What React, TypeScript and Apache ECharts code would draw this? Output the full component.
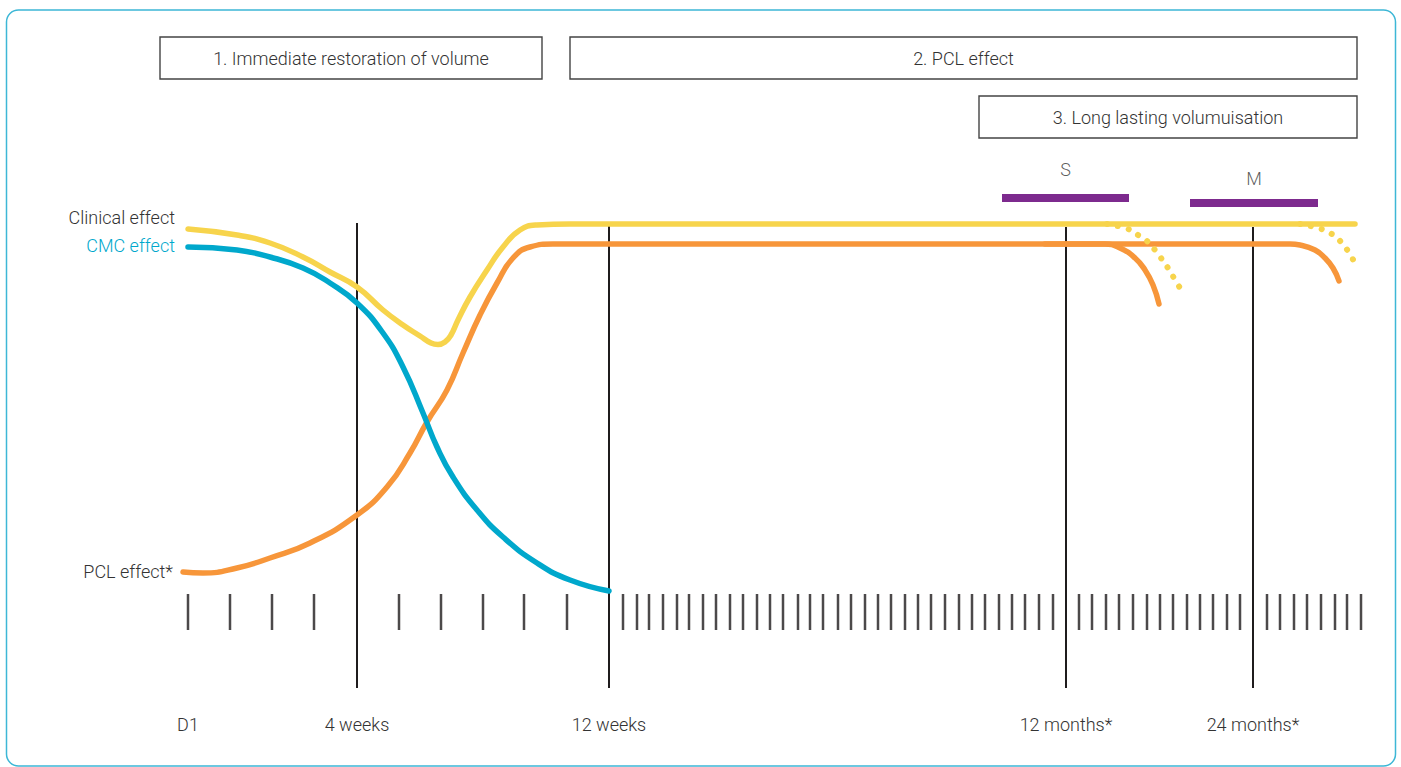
import React, { useEffect, useRef } from "react";
import * as echarts from "echarts";

// x: schematic time position (D1 = 0), y: effect level (baseline = 0)
const clinical: number[][] = [
  [0, 459], [49, 453], [82, 445], [115, 431], [142, 416], [169, 401], [195, 378], [215, 363],
  [232, 352], [243, 345], [250, 343.5], [257, 346], [263, 353], [270, 368], [282, 391], [299, 418], [315, 441],
  [332, 458], [349, 463], [382, 464], [500, 464], [800, 464], [1000, 464], [1167, 464],
];
const cmc: number[][] = [
  [0, 441], [49, 438], [82, 431], [115, 420], [142, 405], [169, 385], [195, 355], [215, 321],
  [235, 275], [249, 241], [265, 211], [289, 178], [315, 151], [349, 125], [382, 108], [421, 97],
];
const pcl: number[][] = [
  [-5, 116], [15, 115], [49, 120], [82, 130], [122, 145], [169, 173], [199, 201], [222, 235],
  [239, 266], [259, 298], [275, 335], [292, 373], [309, 405], [325, 430], [342, 441],
  [365, 444], [442, 444], [700, 444], [917, 444], [932, 440], [947, 430], [957, 418],
  [965, 403], [971, 384],
];
const pclLate: number[][] = [
  [857, 444], [1000, 444], [1102, 444], [1112, 443], [1127, 438], [1137, 430], [1145, 420], [1151, 407],
];
const clinicalFade1: number[][] = [
  [919, 464], [940, 459], [950, 453], [959, 447], [967, 438], [973, 430], [980, 420], [986, 410], [992, 400],
];
const clinicalFade2: number[][] = [
  [1112, 464], [1130, 460], [1140, 456], [1149, 450], [1156, 442], [1162, 434], [1167, 424],
];
const milestones = [0, 169, 421, 878, 1065];
const milestoneLabels = ["D1", "4 weeks", "12 weeks", "12 months*", "24 months*"];
const milestoneTops = [null, 465, 462, 461, 461];
const ticks = [
  0, 42, 84, 126, 211, 253, 295, 336, 379,
  435, 449, 461, 475, 489, 501, 515, 528, 542, 555, 569, 582, 595, 610, 622, 635, 650, 663,
  677, 690, 703, 717, 730, 743, 757, 771, 784, 797, 811, 824, 837, 851, 865,
  891, 904, 918, 931, 945, 959, 972, 985, 999, 1012, 1025, 1039, 1052,
  1079, 1092, 1106, 1119, 1133, 1147, 1159, 1173,
];
const tickLevel = 76;
const productRanges = [
  { name: "S", from: 814, to: 941, level: 490, labelLevel: 519 },
  { name: "M", from: 1002, to: 1130, level: 485, labelLevel: 510 },
];
const phases = [
  { text: "1. Immediate restoration of volume", x: 160, y: 37, w: 382, h: 42 },
  { text: "2. PCL effect", x: 570, y: 37, w: 787, h: 42 },
  { text: "3. Long lasting volumuisation", x: 979, y: 96, w: 378, h: 42 },
];

const FONT = "Roboto, 'Open Sans', sans-serif";
const FW = 300;
const FS = 18;
const TEXT = "#333333";
const YELLOW = "#F7D44C";
const BLUE = "#00A8CC";
const ORANGE = "#F7963A";
const PURPLE = "#7D2A8E";
const DARK = "#1f1c1d";

export default function App() {
  const ref = useRef<HTMLDivElement>(null);
  useEffect(() => {
    if (!ref.current) return;
    const chart = echarts.init(ref.current, null, { renderer: "svg" });
    const curve = (name: string, data: number[][], color: string, extra: any = {}) => ({
      name,
      type: "line",
      data,
      smooth: 0.5,
      showSymbol: false,
      symbol: "none",
      silent: true,
      clip: false,
      lineStyle: { color, width: 5.5, cap: "round" },
      z: 3,
      ...extra,
    });
    const series: any[] = [];
    milestones.forEach((m, i) => {
      const top = milestoneTops[i];
      if (top == null) return;
      series.push({
        type: "line",
        data: [[m, 0], [m, top]],
        symbol: "none",
        silent: true,
        lineStyle: { color: DARK, width: 2 },
        z: 2,
      });
    });
    series.push({
      type: "scatter",
      data: ticks.map((t) => [t, tickLevel]),
      symbol: "rect",
      symbolSize: [2.5, 36],
      itemStyle: { color: DARK },
      silent: true,
      clip: false,
      z: 2,
    });
    series.push(curve("Clinical effect", clinical, YELLOW));
    series.push(curve("CMC effect", cmc, BLUE, { z: 4 }));
    series.push(curve("PCL effect", pcl, ORANGE));
    series.push(curve("PCL late", pclLate, ORANGE));
    series.push(
      curve("fade1", clinicalFade1, YELLOW, {
        lineStyle: { color: YELLOW, width: 6, type: [0.1, 11], cap: "round" },
      })
    );
    series.push(
      curve("fade2", clinicalFade2, YELLOW, {
        lineStyle: { color: YELLOW, width: 6, type: [0.1, 11], cap: "round" },
      })
    );
    productRanges.forEach((p) => {
      series.push({
        type: "line",
        data: [[p.from, p.level], [p.to, p.level]],
        symbol: "none",
        silent: true,
        lineStyle: { color: PURPLE, width: 8, cap: "butt" },
        z: 5,
      });
      series.push({
        type: "scatter",
        data: [[(p.from + p.to) / 2, p.labelLevel]],
        symbolSize: 0,
        silent: true,
        label: {
          show: true,
          position: "inside",
          formatter: p.name,
          color: TEXT,
          fontSize: FS,
          fontWeight: FW,
          fontFamily: FONT,
        },
      });
    });

    const graphic: any[] = [
      {
        type: "rect",
        shape: { x: 6.5, y: 10, width: 1389, height: 756, r: 12 },
        style: { fill: "none", stroke: "#3DB7D6", lineWidth: 1.5 },
        silent: true,
      },
    ];
    phases.forEach((p) => {
      graphic.push({
        type: "rect",
        shape: { x: p.x, y: p.y, width: p.w, height: p.h },
        style: { fill: "#fff", stroke: "#444444", lineWidth: 1.4 },
        silent: true,
      });
      graphic.push({
        type: "text",
        style: {
          text: p.text,
          x: p.x + p.w / 2,
          y: p.y + p.h / 2,
          align: "center",
          verticalAlign: "middle",
          fill: TEXT,
          fontSize: FS,
          fontWeight: FW,
          fontFamily: FONT,
        },
        silent: true,
      });
    });
    const sideLabels = [
      { text: "Clinical effect", x: 175, y: 217, color: TEXT },
      { text: "CMC effect", x: 175, y: 245, color: BLUE },
      { text: "PCL effect*", x: 173, y: 571, color: TEXT },
    ];
    sideLabels.forEach((s) => {
      graphic.push({
        type: "text",
        style: {
          text: s.text,
          x: s.x,
          y: s.y,
          align: "right",
          verticalAlign: "middle",
          fill: s.color,
          fontSize: FS,
          fontWeight: FW,
          fontFamily: FONT,
        },
        silent: true,
      });
    });

    chart.setOption({
      animation: false,
      backgroundColor: "#ffffff",
      grid: { left: 178, right: 38, top: 160, bottom: 79 },
      xAxis: {
        type: "value",
        min: -10,
        max: 1175,
        axisLine: { show: false },
        axisTick: { show: false },
        splitLine: { show: false },
        axisLabel: {
          customValues: milestones,
          formatter: (v: number) => {
            const i = milestones.indexOf(v);
            return i >= 0 ? milestoneLabels[i] : "";
          },
          margin: 27,
          color: TEXT,
          fontSize: FS,
          fontWeight: FW,
          fontFamily: FONT,
        },
      },
      yAxis: {
        type: "value",
        min: 0,
        max: 528,
        show: false,
      },
      graphic,
      series,
    });
    return () => chart.dispose();
  }, []);
  return (
    <div
      ref={ref}
      style={{ position: "absolute", left: 0, top: 0, width: 1401, height: 767 }}
    />
  );
}
